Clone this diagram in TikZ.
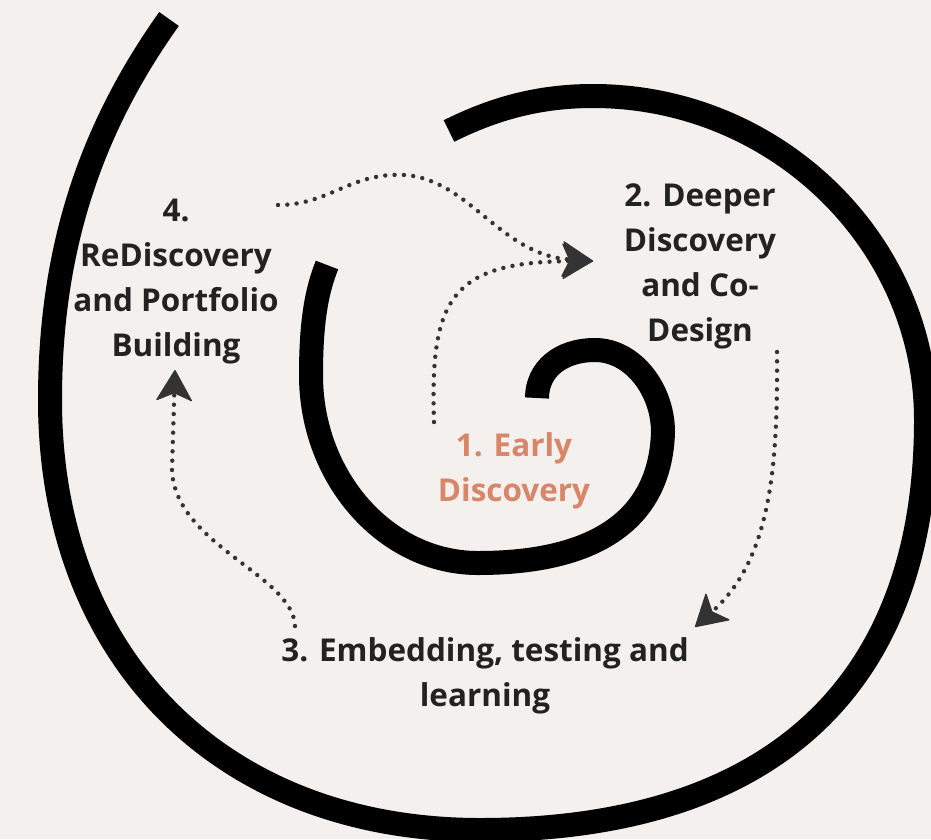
\documentclass[tikz,border=0pt]{standalone}
\usepackage{fontspec}
\setmainfont{Open Sans}
\usepackage{tikz}
\usetikzlibrary{arrows.meta}
\definecolor{paper}{HTML}{F3F0ED}
\definecolor{ink}{HTML}{222222}
\definecolor{clay}{HTML}{D8866A}
\definecolor{tipgrey}{HTML}{333333}

\begin{document}
\begin{tikzpicture}[x=0.75pt,y=0.75pt,yscale=-1,xscale=1,
    spiral/.style={line width=18pt,black},
    dots/.style={tipgrey,line width=3.3pt,line cap=round,dash pattern=on 0pt off 7pt,
      -{Stealth[length=24pt,width=28pt,inset=6pt,line width=1pt,round]}},
    stage/.style={text=ink,font=\bfseries\fontsize{23.6}{33.75}\selectfont,align=center,inner sep=0.75pt}]
    %set diagram: width 931, height 839
    \fill [paper] (0,0) rectangle (931,839);
    \useasboundingbox (0,0) rectangle (931,839);

    %Curve Lines: inner turn of the spiral
    \draw [spiral] (537,398) .. controls (537,370) and (560,350) .. (595,350) .. controls (633,350) and (663,390) .. (663,432) .. controls (660,530) and (580,563) .. (478,563) .. controls (386,563) and (311,478) .. (311,375) .. controls (311,320) and (317,290) .. (327,265) ;
    %Curve Lines: outer turn of the spiral
    \draw [spiral] (449,131) .. controls (495,108) and (540,96) .. (593,96) .. controls (776,96) and (926,242) .. (926,420) .. controls (926,687) and (770,830) .. (480,830) .. controls (222,830) and (50,658) .. (50,400) .. controls (50,250) and (90,130) .. (169,19) ;

    % Text Node
    \node [stage] (rediscover) at (176,282) {4.\\ReDiscovery\\and Portfolio\\Building};
    % Text Node
    \node [stage] (deeper) at (700,266) {2. Deeper\\Discovery\\and Co-\\Design};
    % Text Node
    \node [stage,text=clay] (early) at (514,471) {1. Early\\Discovery};
    % Text Node
    \node [stage] (embed) at (485,676) {3. Embedding, testing and\\learning};

    %ends of the dotted arrows
    \coordinate (rediscoverout) at (278,205);
    \coordinate (earlyout) at (434,422);
    \coordinate (deeperin) at (593,261);
    \coordinate (deeperout) at (777,352);
    \coordinate (embedin) at (695,627);
    \coordinate (embedout) at (295,626);
    \coordinate (rediscoverin) at (175,370);

    %Curve Lines: 4 -> 2
    \draw [dots] (rediscoverout) .. controls (330,205) and (350,172) .. (405,175) .. controls (470,180) and (500,255) .. (deeperin);
    %Curve Lines: 1 -> 2
    \draw [dots] (earlyout) .. controls (430,300) and (450,262) .. (deeperin);
    %Curve Lines: 2 -> 3
    \draw [dots] (deeperout) .. controls (778,470) and (770,560) .. (embedin);
    %Curve Lines: 3 -> 4
    \draw [dots] (embedout) .. controls (293,575) and (175,545) .. (172,470) -- (rediscoverin);
\end{tikzpicture}
\end{document}
